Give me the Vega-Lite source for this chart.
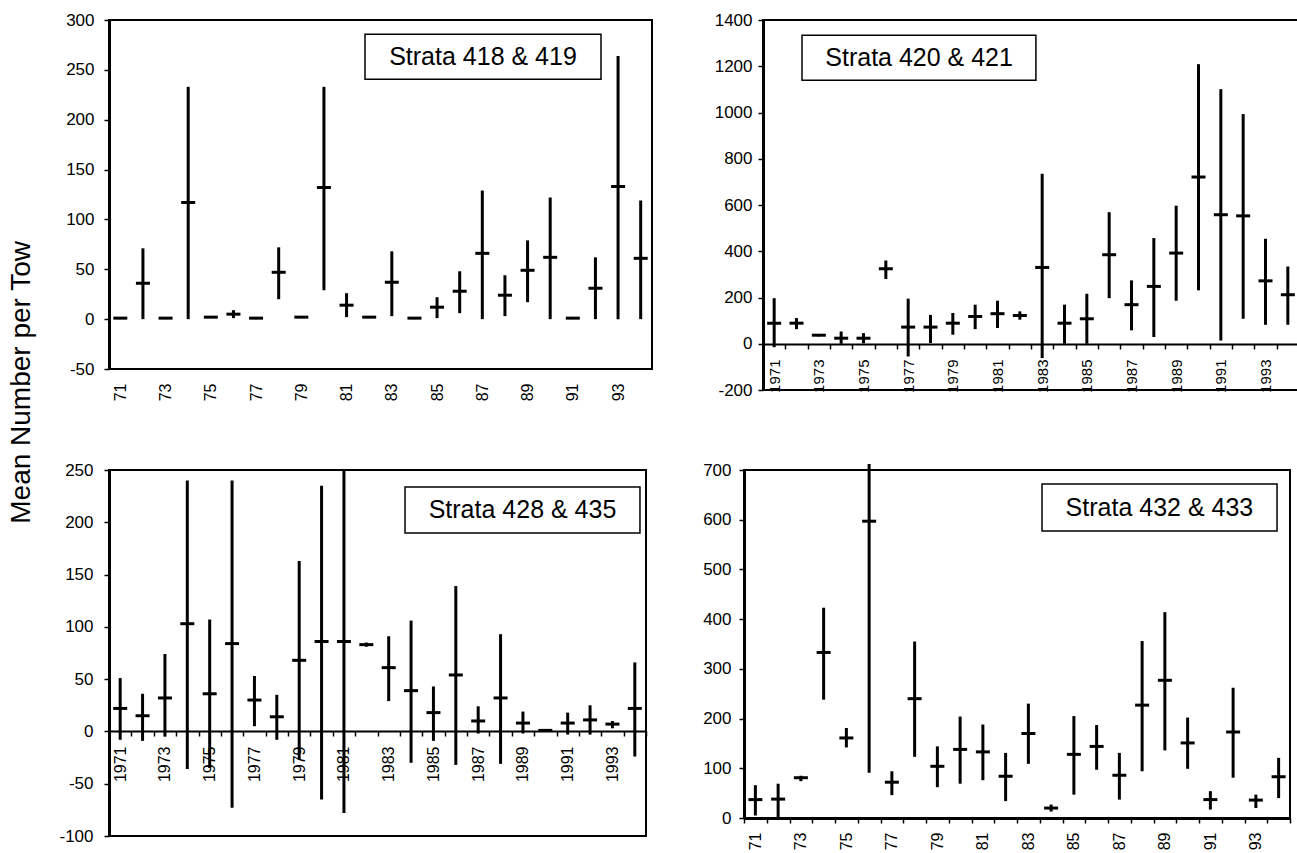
{
  "$schema": "https://vega.github.io/schema/vega-lite/v6.json",
  "padding": {"left": 7, "top": 10, "right": 0, "bottom": 0},
  "background": "white",
  "title": {"text": "Mean Number per Tow", "orient": "left", "anchor": "middle", "fontSize": 28, "fontWeight": "normal", "font": "Liberation Sans", "color": "black", "offset": 22, "dx": 48},
  "config": {
    "font": "Liberation Sans",
    "view": {"stroke": "black", "strokeWidth": 2},
    "axis": {"domainColor": "black", "domainWidth": 3, "tickColor": "black", "tickWidth": 1.5, "tickSize": 5, "labelColor": "black", "labelFontSize": 17, "labelFont": "Liberation Sans", "grid": false, "title": null, "labelPadding": 8}
  },
  "data": {"values": [
    {"panel": 1, "year": 1971, "mean": 1, "low": 0, "high": 1},
    {"panel": 1, "year": 1972, "mean": 36, "low": 0, "high": 71},
    {"panel": 1, "year": 1973, "mean": 1, "low": 0, "high": 1},
    {"panel": 1, "year": 1974, "mean": 117, "low": 0, "high": 233},
    {"panel": 1, "year": 1975, "mean": 2, "low": 1, "high": 3},
    {"panel": 1, "year": 1976, "mean": 5, "low": 1, "high": 9},
    {"panel": 1, "year": 1977, "mean": 1, "low": 0, "high": 1},
    {"panel": 1, "year": 1978, "mean": 47, "low": 20, "high": 72},
    {"panel": 1, "year": 1979, "mean": 2, "low": 1, "high": 2},
    {"panel": 1, "year": 1980, "mean": 132, "low": 29, "high": 233},
    {"panel": 1, "year": 1981, "mean": 14, "low": 2, "high": 26},
    {"panel": 1, "year": 1982, "mean": 2, "low": 1, "high": 3},
    {"panel": 1, "year": 1983, "mean": 37, "low": 3, "high": 68},
    {"panel": 1, "year": 1984, "mean": 1, "low": 0, "high": 1},
    {"panel": 1, "year": 1985, "mean": 12, "low": 1, "high": 22},
    {"panel": 1, "year": 1986, "mean": 28, "low": 6, "high": 48},
    {"panel": 1, "year": 1987, "mean": 66, "low": 0, "high": 129},
    {"panel": 1, "year": 1988, "mean": 24, "low": 3, "high": 44},
    {"panel": 1, "year": 1989, "mean": 49, "low": 17, "high": 79},
    {"panel": 1, "year": 1990, "mean": 62, "low": 0, "high": 122},
    {"panel": 1, "year": 1991, "mean": 1, "low": 0, "high": 1},
    {"panel": 1, "year": 1992, "mean": 31, "low": 0, "high": 62},
    {"panel": 1, "year": 1993, "mean": 133, "low": 0, "high": 264},
    {"panel": 1, "year": 1994, "mean": 61, "low": 0, "high": 119},
    {"panel": 2, "year": 1971, "mean": 89, "low": -15, "high": 197},
    {"panel": 2, "year": 1972, "mean": 89, "low": 63, "high": 111},
    {"panel": 2, "year": 1973, "mean": 37, "low": 32, "high": 42},
    {"panel": 2, "year": 1974, "mean": 24, "low": 0, "high": 53},
    {"panel": 2, "year": 1975, "mean": 24, "low": 2, "high": 46},
    {"panel": 2, "year": 1976, "mean": 324, "low": 280, "high": 360},
    {"panel": 2, "year": 1977, "mean": 72, "low": -55, "high": 195},
    {"panel": 2, "year": 1978, "mean": 72, "low": 3, "high": 125},
    {"panel": 2, "year": 1979, "mean": 89, "low": 39, "high": 133},
    {"panel": 2, "year": 1980, "mean": 118, "low": 63, "high": 169},
    {"panel": 2, "year": 1981, "mean": 130, "low": 68, "high": 186},
    {"panel": 2, "year": 1982, "mean": 122, "low": 104, "high": 140},
    {"panel": 2, "year": 1983, "mean": 330, "low": -62, "high": 735},
    {"panel": 2, "year": 1984, "mean": 89, "low": 0, "high": 169},
    {"panel": 2, "year": 1985, "mean": 108, "low": 0, "high": 216},
    {"panel": 2, "year": 1986, "mean": 385, "low": 197, "high": 569},
    {"panel": 2, "year": 1987, "mean": 169, "low": 58, "high": 274},
    {"panel": 2, "year": 1988, "mean": 248, "low": 29, "high": 457},
    {"panel": 2, "year": 1989, "mean": 392, "low": 186, "high": 597},
    {"panel": 2, "year": 1990, "mean": 721, "low": 231, "high": 1209},
    {"panel": 2, "year": 1991, "mean": 558, "low": 14, "high": 1101},
    {"panel": 2, "year": 1992, "mean": 553, "low": 108, "high": 993},
    {"panel": 2, "year": 1993, "mean": 272, "low": 82, "high": 454},
    {"panel": 2, "year": 1994, "mean": 212, "low": 82, "high": 334},
    {"panel": 3, "year": 1971, "mean": 22, "low": -8, "high": 51},
    {"panel": 3, "year": 1972, "mean": 15, "low": -9, "high": 36},
    {"panel": 3, "year": 1973, "mean": 32, "low": -5, "high": 74},
    {"panel": 3, "year": 1974, "mean": 103, "low": -36, "high": 240},
    {"panel": 3, "year": 1975, "mean": 36, "low": -35, "high": 107},
    {"panel": 3, "year": 1976, "mean": 84, "low": -73, "high": 240},
    {"panel": 3, "year": 1977, "mean": 30, "low": 5, "high": 53},
    {"panel": 3, "year": 1978, "mean": 14, "low": -8, "high": 35},
    {"panel": 3, "year": 1979, "mean": 68, "low": -27, "high": 163},
    {"panel": 3, "year": 1980, "mean": 86, "low": -65, "high": 235},
    {"panel": 3, "year": 1981, "mean": 86, "low": -78, "high": 250},
    {"panel": 3, "year": 1982, "mean": 83, "low": 81, "high": 85},
    {"panel": 3, "year": 1983, "mean": 61, "low": 29, "high": 91},
    {"panel": 3, "year": 1984, "mean": 39, "low": -30, "high": 106},
    {"panel": 3, "year": 1985, "mean": 18, "low": -9, "high": 43},
    {"panel": 3, "year": 1986, "mean": 54, "low": -32, "high": 139},
    {"panel": 3, "year": 1987, "mean": 10, "low": -2, "high": 24},
    {"panel": 3, "year": 1988, "mean": 32, "low": -31, "high": 93},
    {"panel": 3, "year": 1989, "mean": 8, "low": -2, "high": 19},
    {"panel": 3, "year": 1990, "mean": 1, "low": 0, "high": 2},
    {"panel": 3, "year": 1991, "mean": 8, "low": -3, "high": 18},
    {"panel": 3, "year": 1992, "mean": 11, "low": -3, "high": 25},
    {"panel": 3, "year": 1993, "mean": 7, "low": 3, "high": 10},
    {"panel": 3, "year": 1994, "mean": 22, "low": -24, "high": 66},
    {"panel": 4, "year": 1971, "mean": 37, "low": 5, "high": 66},
    {"panel": 4, "year": 1972, "mean": 38, "low": 2, "high": 69},
    {"panel": 4, "year": 1973, "mean": 81, "low": 74, "high": 85},
    {"panel": 4, "year": 1974, "mean": 333, "low": 238, "high": 423},
    {"panel": 4, "year": 1975, "mean": 161, "low": 142, "high": 181},
    {"panel": 4, "year": 1976, "mean": 597, "low": 91, "high": 712},
    {"panel": 4, "year": 1977, "mean": 72, "low": 46, "high": 94},
    {"panel": 4, "year": 1978, "mean": 240, "low": 123, "high": 355},
    {"panel": 4, "year": 1979, "mean": 104, "low": 62, "high": 144},
    {"panel": 4, "year": 1980, "mean": 138, "low": 69, "high": 204},
    {"panel": 4, "year": 1981, "mean": 133, "low": 76, "high": 188},
    {"panel": 4, "year": 1982, "mean": 84, "low": 34, "high": 131},
    {"panel": 4, "year": 1983, "mean": 170, "low": 109, "high": 230},
    {"panel": 4, "year": 1984, "mean": 20, "low": 13, "high": 27},
    {"panel": 4, "year": 1985, "mean": 128, "low": 47, "high": 205},
    {"panel": 4, "year": 1986, "mean": 144, "low": 97, "high": 187},
    {"panel": 4, "year": 1987, "mean": 86, "low": 37, "high": 131},
    {"panel": 4, "year": 1988, "mean": 227, "low": 94, "high": 356},
    {"panel": 4, "year": 1989, "mean": 277, "low": 136, "high": 414},
    {"panel": 4, "year": 1990, "mean": 151, "low": 99, "high": 202},
    {"panel": 4, "year": 1991, "mean": 37, "low": 17, "high": 54},
    {"panel": 4, "year": 1992, "mean": 173, "low": 81, "high": 262},
    {"panel": 4, "year": 1993, "mean": 36, "low": 20, "high": 47},
    {"panel": 4, "year": 1994, "mean": 83, "low": 40, "high": 121}
  ]},
  "vconcat": [
    {
      "hconcat": [
        {
          "width": 543, "height": 349,
          "transform": [{"filter": "datum.panel == 1"}],
          "encoding": {"x": {"field": "year", "type": "ordinal", "scale": {"type": "band", "paddingInner": 0, "paddingOuter": 0},
            "axis": {"title": null, "tickBand": "extent", "ticks": false, "domain": false, "labelAngle": -90, "labelPadding": 14, "labelFontSize": 16, "labelExpr": "datum.value % 2 == 1 ? substring(toString(datum.value), 2) : ''"}}},
          "layer": [
            {"mark": {"type": "rule", "strokeWidth": 3, "color": "black"},
             "encoding": {"y": {"field": "low", "type": "quantitative", "scale": {"domain": [-50, 300], "nice": false, "zero": false},
               "axis": {"title": null, "values": [-50, 0, 50, 100, 150, 200, 250, 300], "labelExpr": "'' + datum.value", "labelPadding": 10}},
               "y2": {"field": "high"}}},
            {"mark": {"type": "tick", "color": "black", "size": 14, "thickness": 3, "opacity": 1},
             "encoding": {"y": {"field": "mean", "type": "quantitative"}}},
            {"data": {"values": [{}]},
             "mark": {"type": "rect", "fill": "white", "stroke": "black", "strokeWidth": 1.5},
             "encoding": {"x": {"datum": 1982, "type": "ordinal", "bandPosition": 0.315}, "x2": {"datum": 1992, "bandPosition": 0.746}, "y": {"datum": 285.7, "type": "quantitative"}, "y2": {"datum": 240.6}}},
            {"data": {"values": [{}]},
             "mark": {"type": "text", "text": "Strata 418 & 419", "fontSize": 25, "color": "black", "align": "center", "baseline": "middle"},
             "encoding": {"x": {"datum": 1987, "type": "ordinal", "bandPosition": 0.53}, "y": {"datum": 263, "type": "quantitative"}}}
          ]
        },
        {
          "width": 536, "height": 370,
          "transform": [{"filter": "datum.panel == 2"}],
          "encoding": {"x": {"field": "year", "type": "ordinal", "scale": {"type": "band", "paddingInner": 0, "paddingOuter": 0},
            "axis": {"title": null, "tickBand": "extent", "offset": -46, "domainWidth": 2, "labelAngle": -90, "labelPadding": 10, "labelFontSize": 15, "labelExpr": "datum.value % 2 == 1 ? toString(datum.value) : ''"}}},
          "layer": [
            {"mark": {"type": "rule", "strokeWidth": 3, "color": "black"},
             "encoding": {"y": {"field": "low", "type": "quantitative", "scale": {"domain": [-200, 1400], "nice": false, "zero": false},
               "axis": {"title": null, "values": [-200, 0, 200, 400, 600, 800, 1000, 1200, 1400], "labelExpr": "'' + datum.value", "labelPadding": 6}},
               "y2": {"field": "high"}}},
            {"mark": {"type": "tick", "color": "black", "size": 14, "thickness": 3, "opacity": 1},
             "encoding": {"y": {"field": "mean", "type": "quantitative"}}},
            {"data": {"values": [{}]},
             "mark": {"type": "rect", "fill": "white", "stroke": "black", "strokeWidth": 1.5},
             "encoding": {"x": {"datum": 1972, "type": "ordinal", "bandPosition": 0.746}, "x2": {"datum": 1983, "bandPosition": 0.22}, "y": {"datum": 1334, "type": "quantitative"}, "y2": {"datum": 1139}}},
            {"data": {"values": [{}]},
             "mark": {"type": "text", "text": "Strata 420 & 421", "fontSize": 25, "color": "black", "align": "center", "baseline": "middle"},
             "encoding": {"x": {"datum": 1977, "type": "ordinal", "bandPosition": 0.99}, "y": {"datum": 1237, "type": "quantitative"}}}
          ]
        }
      ],
      "spacing": 60
    },
    {
      "hconcat": [
        {
          "width": 537, "height": 366,
          "transform": [{"filter": "datum.panel == 3"}],
          "encoding": {"x": {"field": "year", "type": "ordinal", "scale": {"type": "band", "paddingInner": 0, "paddingOuter": 0},
            "axis": {"title": null, "tickBand": "extent", "offset": -105, "domainWidth": 2, "labelAngle": -90, "labelPadding": 10, "labelFontSize": 16, "labelExpr": "datum.value % 2 == 1 ? toString(datum.value) : ''"}}},
          "layer": [
            {"mark": {"type": "rule", "strokeWidth": 3, "color": "black"},
             "encoding": {"y": {"field": "low", "type": "quantitative", "scale": {"domain": [-100, 250], "nice": false, "zero": false},
               "axis": {"title": null, "values": [-100, -50, 0, 50, 100, 150, 200, 250], "labelExpr": "'' + datum.value", "labelPadding": 11}},
               "y2": {"field": "high"}}},
            {"mark": {"type": "tick", "color": "black", "size": 14, "thickness": 3, "opacity": 1},
             "encoding": {"y": {"field": "mean", "type": "quantitative"}}},
            {"data": {"values": [{}]},
             "mark": {"type": "rect", "fill": "white", "stroke": "black", "strokeWidth": 1.5},
             "encoding": {"x": {"datum": 1984, "type": "ordinal", "bandPosition": 0.23}, "x2": {"datum": 1994, "bandPosition": 0.73}, "y": {"datum": 233.7, "type": "quantitative"}, "y2": {"datum": 189.8}}},
            {"data": {"values": [{}]},
             "mark": {"type": "text", "text": "Strata 428 & 435", "fontSize": 25, "color": "black", "align": "center", "baseline": "middle"},
             "encoding": {"x": {"datum": 1989, "type": "ordinal", "bandPosition": 0.48}, "y": {"datum": 211.8, "type": "quantitative"}}}
          ]
        },
        {
          "width": 546, "height": 348,
          "transform": [{"filter": "datum.panel == 4"}],
          "encoding": {"x": {"field": "year", "type": "ordinal", "scale": {"type": "band", "paddingInner": 0, "paddingOuter": 0},
            "axis": {"title": null, "tickBand": "extent", "labelAngle": -90, "labelPadding": 9, "labelFontSize": 16, "labelExpr": "datum.value % 2 == 1 ? substring(toString(datum.value), 2) : ''"}}},
          "layer": [
            {"mark": {"type": "rule", "strokeWidth": 3, "color": "black"},
             "encoding": {"y": {"field": "low", "type": "quantitative", "scale": {"domain": [0, 700], "nice": false, "zero": false},
               "axis": {"title": null, "values": [0, 100, 200, 300, 400, 500, 600, 700], "labelExpr": "'' + datum.value"}},
               "y2": {"field": "high"}}},
            {"mark": {"type": "tick", "color": "black", "size": 14, "thickness": 3, "opacity": 1},
             "encoding": {"y": {"field": "mean", "type": "quantitative"}}},
            {"data": {"values": [{}]},
             "mark": {"type": "rect", "fill": "white", "stroke": "black", "strokeWidth": 1.5},
             "encoding": {"x": {"datum": 1984, "type": "ordinal", "bandPosition": 0.10}, "x2": {"datum": 1994, "bandPosition": 0.43}, "y": {"datum": 671.8, "type": "quantitative"}, "y2": {"datum": 577.3}}},
            {"data": {"values": [{}]},
             "mark": {"type": "text", "text": "Strata 432 & 433", "fontSize": 25, "color": "black", "align": "center", "baseline": "middle"},
             "encoding": {"x": {"datum": 1989, "type": "ordinal", "bandPosition": 0.26}, "y": {"datum": 624.5, "type": "quantitative"}}}
          ]
        }
      ],
      "spacing": 53
    }
  ],
  "spacing": 58
}
